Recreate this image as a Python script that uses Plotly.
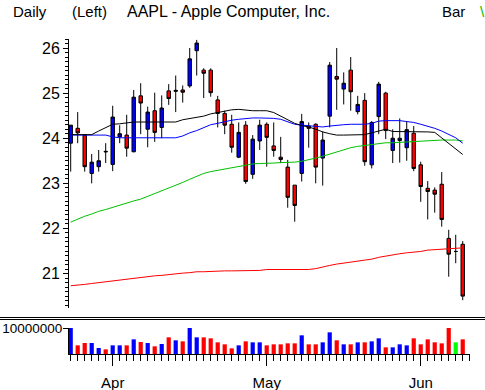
import plotly.graph_objects as go

# ---------------- data ----------------
opens = [23.89, 24.22, 24.07, 23.22, 23.37, 23.71, 23.42, 24.03, 24.07, 23.70,
         24.94, 24.20, 24.61, 24.24, 25.05, 25.04, 25.07, 25.16, 25.94, 25.51,
         25.51, 24.85, 24.55, 24.31, 23.58, 24.29, 23.20, 23.94, 24.31, 23.83,
         23.58, 23.36, 22.96, 23.22, 24.27, 24.31, 23.56, 24.49, 25.37, 25.09,
         25.51, 24.59, 24.84, 23.41, 24.48, 25.00, 23.73, 23.95, 23.79, 24.11,
         23.41, 22.89, 22.85, 22.98, 21.78, 21.49, 21.65]
highs = [24.29, 24.58, 24.09, 23.65, 23.74, 23.89, 24.72, 24.29, 24.52, 25.07,
         25.22, 24.70, 25.01, 24.95, 25.20, 25.39, 25.17, 26.00, 26.18, 25.55,
         25.55, 24.94, 24.61, 24.52, 24.35, 24.38, 24.07, 24.41, 24.35, 24.35,
         24.03, 23.52, 22.96, 24.54, 24.35, 24.33, 24.15, 25.69, 26.00, 25.46,
         25.80, 24.94, 25.00, 24.38, 25.25, 25.03, 24.20, 24.44, 24.38, 24.27,
         23.48, 23.05, 22.91, 23.25, 21.97, 21.86, 21.72]
lows = [23.26, 23.89, 23.26, 23.00, 23.26, 23.45, 23.27, 23.89, 23.59, 23.69,
        24.09, 23.80, 23.92, 24.00, 24.74, 24.58, 24.79, 25.12, 25.39, 24.89,
        24.92, 24.24, 24.09, 23.68, 23.56, 22.99, 23.10, 23.74, 23.37, 23.59,
        23.45, 22.46, 22.15, 23.04, 23.79, 23.00, 22.95, 24.24, 24.63, 24.75,
        24.61, 24.53, 23.39, 23.33, 24.09, 23.98, 23.45, 23.46, 23.50, 23.27,
        22.59, 22.20, 22.35, 22.04, 20.93, 21.23, 20.41]
closes = [24.29, 24.12, 23.37, 23.47, 23.50, 23.70, 24.47, 24.10, 23.78, 24.91,
          24.78, 24.58, 24.13, 24.67, 24.88, 25.06, 25.02, 25.76, 26.11, 25.44,
          25.01, 24.55, 24.29, 23.80, 24.13, 23.04, 23.98, 24.29, 24.02, 23.73,
          23.53, 22.69, 22.51, 24.37, 24.22, 23.36, 23.96, 25.62, 25.31, 25.22,
          25.03, 24.75, 23.48, 24.35, 25.20, 24.17, 24.00, 24.00, 24.19, 23.33,
          22.93, 22.82, 22.76, 22.20, 21.43, 21.49, 20.50]
volume_m = [10.0, 3.33, 4.23, 4.23, 2.31, 1.79, 3.33, 3.33, 3.33, 5.64,
            4.62, 4.23, 2.95, 3.85, 6.41, 5.26, 4.87, 10.0, 6.41, 6.41,
            6.03, 4.49, 3.72, 2.18, 3.33, 4.87, 4.49, 4.49, 3.33, 3.72,
            3.72, 4.10, 4.10, 7.18, 3.72, 3.72, 4.49, 8.33, 5.26, 3.72,
            3.72, 4.49, 4.49, 4.87, 6.03, 2.56, 2.56, 3.72, 3.33, 6.03,
            3.72, 5.64, 4.49, 4.10, 10.0, 4.49, 5.64]
ma_black = [24.08, 24.08, 24.08, 24.08, 24.16, 24.24, 24.31, 24.32, 24.34, 24.36,
            24.36, 24.36, 24.36, 24.36, 24.36, 24.36, 24.41, 24.44, 24.47, 24.49,
            24.54, 24.57, 24.61, 24.63, 24.64, 24.62, 24.61, 24.61, 24.61, 24.57,
            24.49, 24.42, 24.33, 24.28, 24.25, 24.20, 24.14, 24.10, 24.07, 24.07,
            24.07, 24.07, 24.08, 24.12, 24.16, 24.20, 24.15, 24.15, 24.15, 24.14,
            24.14, 24.14, 24.13, 24.01, 23.89, 23.77, 23.64]
ma_blue = [24.07, 24.07, 24.07, 24.07, 24.07, 24.07, 24.03, 24.01, 24.01, 24.01,
           24.01, 24.01, 24.01, 24.01, 24.01, 24.01, 24.05, 24.12, 24.17, 24.24,
           24.30, 24.33, 24.37, 24.40, 24.42, 24.44, 24.45, 24.45, 24.45, 24.44,
           24.42, 24.36, 24.31, 24.29, 24.28, 24.26, 24.25, 24.27, 24.29, 24.30,
           24.31, 24.31, 24.31, 24.33, 24.38, 24.39, 24.39, 24.39, 24.37, 24.35,
           24.31, 24.27, 24.22, 24.16, 24.08, 24.01, 23.89]
ma_green = [22.14, 22.21, 22.27, 22.32, 22.38, 22.42, 22.47, 22.51, 22.56, 22.61,
            22.65, 22.71, 22.78, 22.84, 22.90, 22.96, 23.02, 23.09, 23.15, 23.22,
            23.26, 23.29, 23.32, 23.34, 23.38, 23.41, 23.43, 23.44, 23.44, 23.45,
            23.46, 23.46, 23.47, 23.49, 23.52, 23.56, 23.60, 23.65, 23.70, 23.75,
            23.79, 23.82, 23.84, 23.86, 23.89, 23.90, 23.90, 23.91, 23.92, 23.93,
            23.93, 23.94, 23.95, 23.96, 23.96, 23.96, 23.94]
ma_red = [20.73, 20.74, 20.76, 20.78, 20.80, 20.81, 20.84, 20.86, 20.87, 20.89,
          20.91, 20.93, 20.95, 20.96, 20.98, 21.00, 21.01, 21.02, 21.04, 21.04,
          21.05, 21.06, 21.06, 21.06, 21.06, 21.06, 21.06, 21.07, 21.09, 21.09,
          21.08, 21.08, 21.08, 21.08, 21.09, 21.11, 21.15, 21.18, 21.21, 21.23,
          21.26, 21.28, 21.30, 21.32, 21.36, 21.39, 21.41, 21.44, 21.46, 21.47,
          21.49, 21.52, 21.53, 21.55, 21.56, 21.57, 21.57]
month_labels = ["Apr", "May", "Jun"]
month_index = [6, 28, 50]
ticker_title = "AAPL - Apple Computer, Inc."

# ---------------- figure ----------------
idx = list(range(len(closes)))
volume = [v * 1_000_000 for v in volume_m]
vol_colors = ["#0000ff" if c > o else ("#ff0000" if c < o else "#00ff00")
              for o, c in zip(opens, closes)]

FONT = "Liberation Sans, Arial, sans-serif"
W, H = 485, 390
ML, MR, MT, MB = 69, 15, 39, 36
PW, PH = W - ML - MR, H - MT - MB

def py(px):  # pixel y -> paper y
    return (H - MB - px) / PH

def px_(x):  # pixel x -> paper x
    return (x - ML) / PW

fig = go.Figure()
for vals, col in [(ma_red, "#ff0000"), (ma_green, "#00c000"),
                  (ma_blue, "#0000ff"), (ma_black, "#000000")]:
    fig.add_trace(go.Scatter(x=idx, y=vals, mode="lines",
                             line=dict(color=col, width=1),
                             xaxis="x", yaxis="y", showlegend=False,
                             hoverinfo="skip"))

fig.add_trace(go.Candlestick(
    x=idx, open=opens, high=highs, low=lows, close=closes,
    increasing=dict(line=dict(color="black", width=1), fillcolor="#0000ff"),
    decreasing=dict(line=dict(color="black", width=1), fillcolor="#ff0000"),
    whiskerwidth=0, xaxis="x", yaxis="y", showlegend=False))

fig.add_trace(go.Bar(x=idx, y=volume, marker=dict(color=vol_colors, line=dict(width=0)),
                     width=0.6, xaxis="x", yaxis="y2", showlegend=False))

fig.update_layout(
    width=W, height=H,
    margin=dict(l=ML, r=MR, t=MT, b=MB, autoexpand=False),
    paper_bgcolor="white", plot_bgcolor="white",
    font=dict(family=FONT, size=16, color="black"),
    boxgap=0.3,
    xaxis=dict(domain=[0, 1], anchor="y2", range=[-0.243, 57.04], automargin=False,
               showgrid=False, zeroline=False, showline=True,
               linecolor="black", linewidth=1,
               tickmode="array", tickvals=month_index, ticktext=month_labels,
               tickfont=dict(size=15),
               ticks="outside", ticklen=11, tickcolor="black", tickwidth=1,
               ticklabelstandoff=4,
               minor=dict(tickmode="linear", tick0=0, dtick=1, ticks="outside",
                          ticklen=6, tickcolor="black", tickwidth=1, showgrid=False),
               rangeslider=dict(visible=False), fixedrange=True),
    yaxis=dict(domain=[py(308.3), 1], anchor="x", range=[20.23, 26.20], automargin=False,
               showgrid=False, zeroline=False, showline=True,
               linecolor="black", linewidth=1,
               tickmode="array", tickvals=[21, 22, 23, 24, 25, 26],
               tickfont=dict(size=16),
               ticks="outside", ticklen=5, tickcolor="black",
               minor=dict(tickmode="linear", tick0=20, dtick=0.1, ticks="outside",
                          ticklen=3, tickcolor="black", showgrid=False)),
    yaxis2=dict(domain=[0, py(328)], anchor="x", range=[0, 10_000_000], automargin=False,
                showgrid=False, zeroline=False, showline=True,
                linecolor="black", linewidth=1,
                tickmode="array", tickvals=[10_000_000], ticktext=["10000000"],
                tickfont=dict(size=13.5), ticklabelstandoff=-2,
                ticks="outside", ticklen=5, tickcolor="black"),
    shapes=[
        dict(type="line", xref="paper", yref="paper", x0=px_(0), x1=px_(W),
             y0=py(317.5), y1=py(317.5), line=dict(color="black", width=1)),
        dict(type="line", xref="paper", yref="paper", x0=px_(0), x1=px_(W),
             y0=py(319.5), y1=py(319.5), line=dict(color="black", width=1)),
    ],
)

for text, x, col, size in [("Daily", 12, "black", 15), ("(Left)", 71, "black", 15),
                           (ticker_title, 126, "black", 16), ("Bar", 441, "black", 15),
                           ("\\", 479, "#00c000", 15)]:
    fig.add_annotation(text=text, xref="paper", yref="paper",
                       x=px_(x), y=py(11.5), xanchor="left", yanchor="middle",
                       showarrow=False, borderpad=0,
                       font=dict(size=size, color=col, family=FONT))

fig.write_html("out.html", config={"displayModeBar": False},
               post_script="document.body.style.margin='0';")
